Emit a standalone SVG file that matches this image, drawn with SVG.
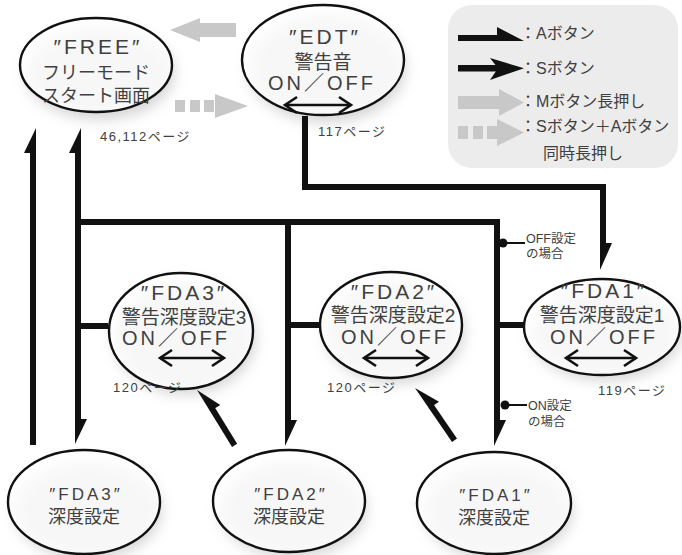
<svg xmlns="http://www.w3.org/2000/svg" width="682" height="555" viewBox="0 0 682 555">
<defs>
<filter id="blur" x="-40%" y="-40%" width="180%" height="180%"><feGaussianBlur stdDeviation="7"/></filter>
<style>
.sh{fill:#8c8c8c;opacity:0.38;filter:url(#blur)}
.el{fill:#fff;fill-opacity:0.82;stroke:#111;stroke-width:2.4}
.t{font-family:"Liberation Sans","Noto Sans CJK JP",sans-serif;fill:#404040;text-anchor:middle}
.q{font-size:21px;letter-spacing:3px}
.qs{font-size:17px;letter-spacing:3px}
.jp{font-size:19px}
.oo{font-size:20px;letter-spacing:3px}
.pg{font-family:"Liberation Sans","Noto Sans CJK JP",sans-serif;fill:#404040;font-size:13px;letter-spacing:1.5px}
.lg{font-family:"Liberation Sans","Noto Sans CJK JP",sans-serif;fill:#404040;font-size:16px}
.sm{font-family:"Liberation Sans","Noto Sans CJK JP",sans-serif;fill:#404040;font-size:12.5px}
.ln{fill:none;stroke:#111;stroke-width:6;stroke-linejoin:miter}
.hd{fill:#111}
.da{fill:none;stroke:#111;stroke-width:2.6}
.gr{fill:#c8c8c8}
</style>
</defs>
<rect width="682" height="555" fill="#fff"/>

<g id="legend">
<rect x="448" y="5" width="230" height="163" rx="24" fill="#ececec"/>
<rect x="458" y="35" width="42" height="6" fill="#111"/>
<polygon points="497,27 524,41 497,41" fill="#111"/>
<rect x="458" y="65" width="40" height="6.5" fill="#111"/>
<polygon points="490,58 524,68.3 490,80 498,68.3" fill="#111"/>
<rect x="458" y="96" width="42" height="13" class="gr"/>
<polygon points="499,89 524,102.5 499,116" class="gr"/>
<rect x="458" y="126" width="10" height="13" class="gr"/>
<rect x="473" y="126" width="10" height="13" class="gr"/>
<rect x="487" y="126" width="10" height="13" class="gr"/>
<polygon points="497,119 524,132.5 497,146" class="gr"/>
<text class="lg" x="520" y="39">：Aボタン</text>
<text class="lg" x="520" y="74">：Sボタン</text>
<text class="lg" x="520" y="107">：Mボタン長押し</text>
<text class="lg" x="520" y="132">：Sボタン＋Aボタン</text>
<text class="lg" x="543" y="159">同時長押し</text>
</g>

<g id="gray-arrows">
<rect x="199" y="23" width="37" height="14" class="gr"/>
<polygon points="170,30 200,18 200,42" class="gr"/>
<rect x="175" y="100" width="10" height="12" class="gr"/>
<rect x="190" y="100" width="10" height="12" class="gr"/>
<rect x="204" y="100" width="10" height="12" class="gr"/>
<polygon points="215,94 248,106 215,118" class="gr"/>
</g>

<g id="node-free">
<ellipse class="sh" cx="100" cy="73" rx="74" ry="46"/>
<ellipse class="el" cx="96" cy="65" rx="76" ry="47"/>
<text class="t q" x="98" y="54">″FREE″</text>
<text class="t jp" x="96" y="79" style="font-size:18px">フリーモード</text>
<text class="t jp" x="96" y="102" style="font-size:18px">スタート画面</text>
<text class="pg" x="100" y="141">46,112ページ</text>
</g>

<g id="node-edt">
<ellipse class="sh" cx="327" cy="68" rx="78" ry="54"/>
<ellipse class="el" cx="323" cy="60" rx="81" ry="55"/>
<text class="t q" x="325" y="44">″EDT″</text>
<text class="t jp" x="323" y="69">警告音</text>
<text class="t oo" x="322" y="90">ON／OFF</text>
<line class="da" x1="285" y1="105" x2="351" y2="105"/>
<polyline class="da" points="297,97 285,105 297,113"/>
<polyline class="da" points="339,97 351,105 339,113"/>
<text class="pg" x="318" y="136">117ページ</text>
</g>

<g id="node-fda3">
<ellipse class="sh" cx="185" cy="338" rx="70" ry="56"/>
<ellipse class="el" cx="181" cy="331" rx="72" ry="58"/>
<text class="t q" x="184" y="300">″FDA3″</text>
<text class="t jp" x="184" y="324">警告深度設定3</text>
<text class="t oo" x="176" y="345">ON／OFF</text>
<line class="da" x1="160" y1="358" x2="224" y2="358"/>
<polyline class="da" points="172,350 160,358 172,366"/>
<polyline class="da" points="212,350 224,358 212,366"/>
<text class="pg" x="113" y="392">120ページ</text>
</g>

<g id="node-fda2">
<ellipse class="sh" cx="395" cy="332" rx="69" ry="51"/>
<ellipse class="el" cx="391" cy="325" rx="71" ry="53"/>
<text class="t q" x="394" y="299">″FDA2″</text>
<text class="t jp" x="393" y="322">警告深度設定2</text>
<text class="t oo" x="395" y="344">ON／OFF</text>
<line class="da" x1="364" y1="358" x2="428" y2="358"/>
<polyline class="da" points="376,350 364,358 376,366"/>
<polyline class="da" points="416,350 428,358 416,366"/>
<text class="pg" x="327" y="392">120ページ</text>
</g>

<g id="node-fda1">
<ellipse class="sh" cx="606" cy="334" rx="75" ry="46"/>
<ellipse class="el" cx="602" cy="327" rx="78" ry="48"/>
<text class="t q" x="604" y="298">″FDA1″</text>
<text class="t jp" x="602" y="322">警告深度設定1</text>
<text class="t oo" x="604" y="344">ON／OFF</text>
<line class="da" x1="566" y1="358" x2="636" y2="358"/>
<polyline class="da" points="578,350 566,358 578,366"/>
<polyline class="da" points="624,350 636,358 624,366"/>
<text class="pg" x="598" y="395">119ページ</text>
</g>

<g id="node-fda3-depth">
<ellipse class="sh" cx="88" cy="510" rx="73" ry="49"/>
<ellipse class="el" cx="84" cy="502" rx="76" ry="52"/>
<text class="t qs" x="86" y="500">″FDA3″</text>
<text class="t jp" x="84" y="523" style="font-size:18px">深度設定</text>
</g>

<g id="node-fda2-depth">
<ellipse class="sh" cx="293" cy="509" rx="73" ry="48"/>
<ellipse class="el" cx="289" cy="501" rx="76" ry="51"/>
<text class="t qs" x="291" y="500">″FDA2″</text>
<text class="t jp" x="289" y="523" style="font-size:18px">深度設定</text>
</g>

<g id="node-fda1-depth">
<ellipse class="sh" cx="498" cy="511" rx="74" ry="48"/>
<ellipse class="el" cx="494" cy="503" rx="77" ry="51"/>
<text class="t qs" x="496" y="501">″FDA1″</text>
<text class="t jp" x="494" y="524" style="font-size:18px">深度設定</text>
</g>

<g id="connectors">
<path class="ln" d="M305,116 V187 H603 V244"/>
<polygon class="hd" points="600,270 600,243 612,243"/>
<path class="ln" d="M33,152 V445"/>
<polygon class="hd" points="36,128 36,153 24,153"/>
<path class="ln" d="M78,152 V420"/>
<polygon class="hd" points="81,128 81,153 69,153"/>
<polygon class="hd" points="75,444 75,419 87,419"/>
<path class="ln" d="M75,222 H497 V421"/>
<polygon class="hd" points="494,446 494,420 506,420"/>
<path class="ln" d="M288,222 V421"/>
<polygon class="hd" points="285,446 285,420 297,420"/>
<path class="ln" d="M75,326 H108"/>
<path class="ln" d="M285,325 H321"/>
<path class="ln" d="M494,325 H525"/>
<path class="ln" d="M234.6,445.4 L212.2,408.9"/>
<polygon class="hd" points="197,390 220.3,405 210.1,411.3"/>
<path class="ln" d="M454.5,440.3 L431,406"/>
<polygon class="hd" points="415,388 439,401.8 429.1,408.6"/>
<circle cx="503" cy="243" r="4.5" fill="#111"/>
<line x1="503" y1="243" x2="525" y2="243" stroke="#111" stroke-width="2"/>
<circle cx="505" cy="405" r="4.5" fill="#111"/>
<line x1="505" y1="405" x2="527" y2="405" stroke="#111" stroke-width="2"/>
</g>

<g id="labels">
<text class="sm" x="526" y="243">OFF設定</text>
<text class="sm" x="526" y="258">の場合</text>
<text class="sm" x="528" y="410">ON設定</text>
<text class="sm" x="528" y="426">の場合</text>
</g>
</svg>
